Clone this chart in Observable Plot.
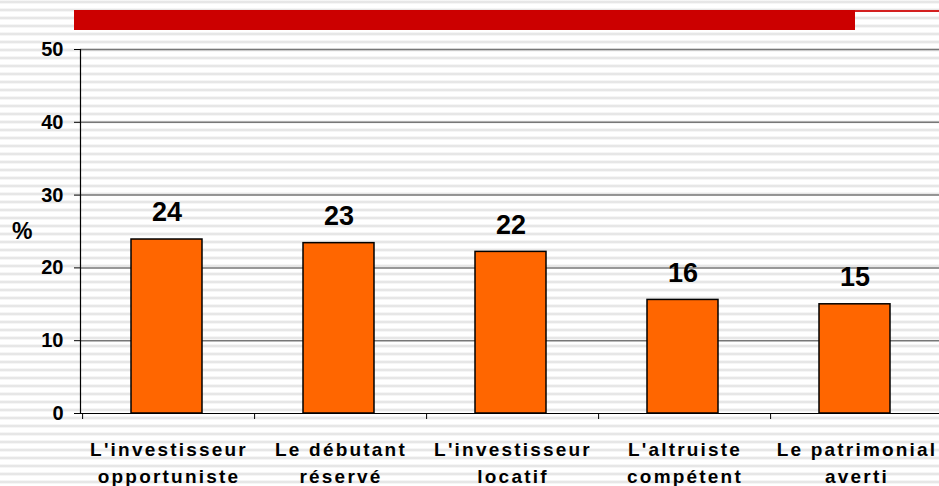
<!DOCTYPE html>
<html>
<head>
<meta charset="utf-8">
<script src="https://cdn.jsdelivr.net/npm/d3@7"></script>
<script src="https://cdn.jsdelivr.net/npm/@observablehq/plot@0.6"></script>
<style>
  html, body { margin: 0; padding: 0; }
  body {
    width: 939px; height: 486px; overflow: hidden; position: relative;
    font-family: "Liberation Sans", Arial, sans-serif;
    background: repeating-linear-gradient(to bottom,
      #ffffff 0px, #ececec 1px, #e1e1e1 2px, #ececec 3px, #ffffff 4px, #ffffff 8px);
  }
  #redbar { position: absolute; left: 74px; top: 10px; width: 781px; height: 20px; background: #cc0000; }
  #redline { position: absolute; left: 855px; top: 10px; width: 84px; height: 2px; background: #d42020; }
  #unit { position: absolute; left: 12px; top: 216px; font-size: 23px; line-height: 30px; font-weight: bold; color: #000; }
  #chart { position: absolute; left: 0; top: 0; }
  #chart g[aria-label="y-axis tick label"] text { font-size: 20px !important; font-weight: bold; }
  #chart g[aria-label="x-axis tick label"] text { font-size: 19px !important; font-weight: bold; letter-spacing: 2.2px; }
  #chart g[aria-label="text"] text { font-size: 27px !important; font-weight: bold; }
</style>
</head>
<body>
<div id="redbar"></div>
<div id="redline"></div>
<div id="chart"></div>
<div id="unit">%</div>
<script>
const categories = [
  "L'investisseur\nopportuniste",
  "Le débutant\nréservé",
  "L'investisseur\nlocatif",
  "L'altruiste\ncompétent",
  "Le patrimonial\naverti"
];
const values = [23.9, 23.4, 22.2, 15.6, 15.0];
const valueLabels = ["24", "23", "22", "16", "15"];
const yTicks = [0, 10, 20, 30, 40, 50];

const data = categories.map((c, i) => ({ cat: c, value: values[i], label: valueLabels[i] }));
const step = (944 - 80) / categories.length;

const chart = Plot.plot({
  width: 939,
  height: 486,
  marginTop: 49,
  marginBottom: 73,
  marginLeft: 80,
  marginRight: 0,
  style: { background: "transparent", fontFamily: "'Liberation Sans', Arial, sans-serif", overflow: "visible" },
  x: { domain: categories, range: [78, 942], paddingInner: 0.59, paddingOuter: 0.295, align: 0.5 },
  y: { domain: [0, 50] },
  marks: [
    Plot.ruleY(yTicks.filter(d => d > 0), { stroke: "#777", strokeWidth: 1.5 }),
    Plot.barY(data, { x: "cat", y: "value", fill: "#ff6600", stroke: "#000", strokeWidth: 1.5 }),
    Plot.ruleY([0], { stroke: "#000", strokeWidth: 1.2 }),
    Plot.frame({ anchor: "left", stroke: "#000", strokeWidth: 1.2 }),
    Plot.axisY({ ticks: yTicks, tickSize: 6, tickPadding: 11, fontSize: 20, fontWeight: "bold", label: null, stroke: "#000", color: "#000" }),
    Plot.axisX({ tickSize: 6, tickFormat: () => "", dx: 2 - step / 2, label: null, stroke: "#000" }),
    Plot.axisX({ tickSize: 0, tickPadding: 24, fontSize: 19, fontWeight: "bold", lineHeight: 1.4, label: null, color: "#000", dx: 2 }),
    Plot.text(data, { x: "cat", y: "value", text: "label", dy: -27, fontSize: 27, fontWeight: "bold", fill: "#000" })
  ]
});
document.getElementById("chart").appendChild(chart);
</script>
</body>
</html>
